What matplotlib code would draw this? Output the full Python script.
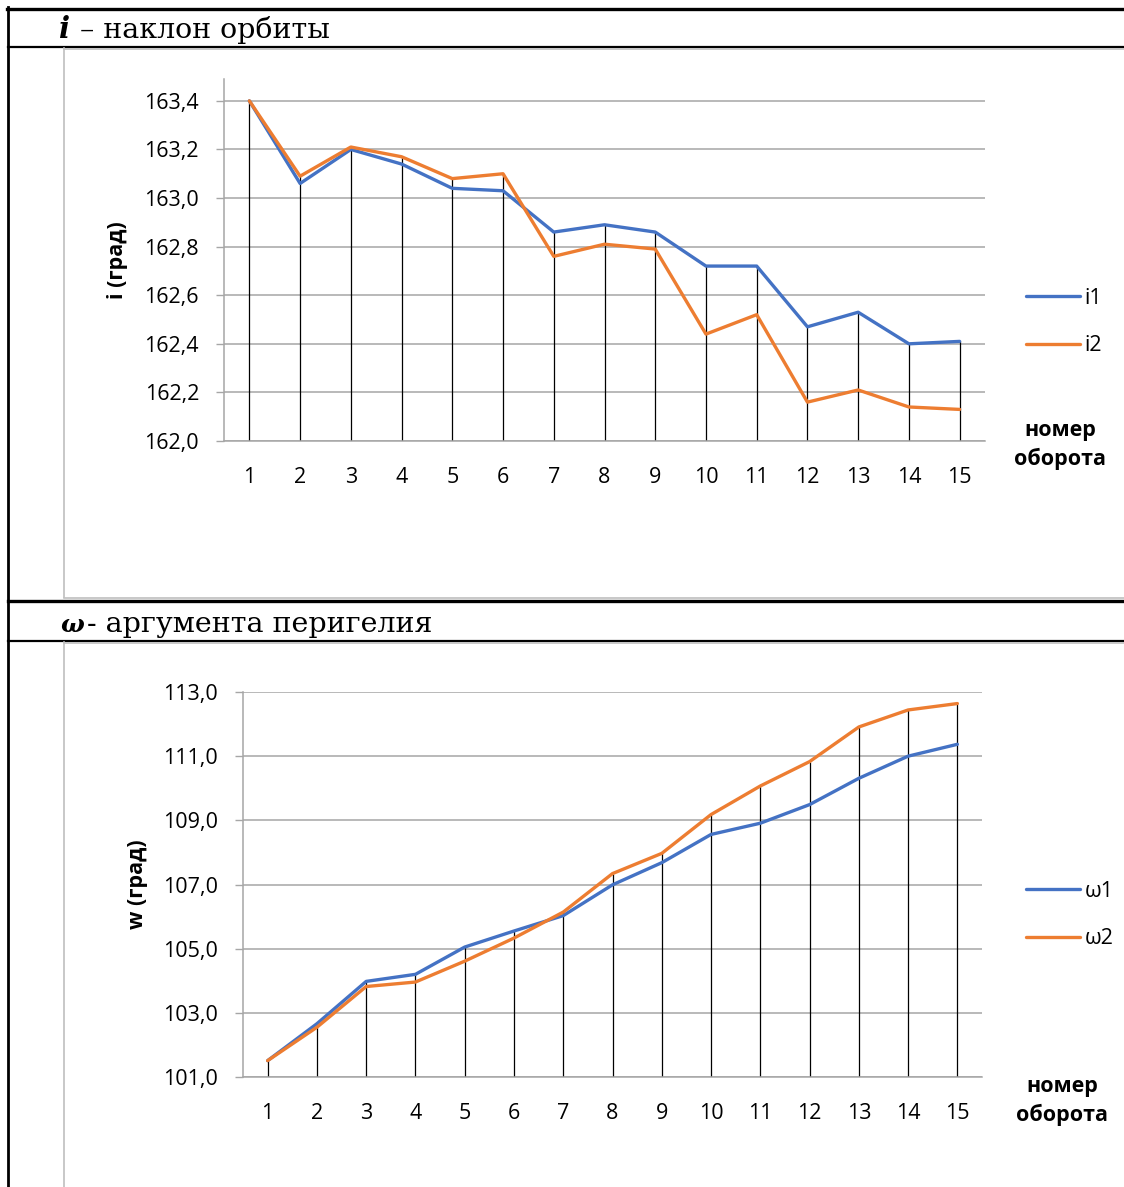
import numpy as np
import matplotlib
matplotlib.use("Agg")
import matplotlib.pyplot as plt
from matplotlib.lines import Line2D

# ---- данные ----
turns = list(range(1, 16))
i1 = [163.40, 163.06, 163.20, 163.14, 163.04, 163.03, 162.86, 162.89,
      162.86, 162.72, 162.72, 162.47, 162.53, 162.40, 162.41]
i2 = [163.40, 163.09, 163.21, 163.17, 163.08, 163.10, 162.76, 162.81,
      162.79, 162.44, 162.52, 162.16, 162.21, 162.14, 162.13]
w1 = [101.51, 102.66, 103.98, 104.20, 105.05, 105.55, 106.03, 106.99,
      107.68, 108.56, 108.91, 109.49, 110.31, 111.00, 111.37]
w2 = [101.51, 102.55, 103.82, 103.96, 104.61, 105.33, 106.14, 107.34,
      107.97, 109.18, 110.07, 110.83, 111.91, 112.44, 112.64]
i_ticks = [162.0, 162.2, 162.4, 162.6, 162.8, 163.0, 163.2, 163.4]
w_ticks = [101.0, 103.0, 105.0, 107.0, 109.0, 111.0, 113.0]

W, H = 1124, 1187
BLUE, ORANGE, GRID = "#4472C4", "#ED7D31", "#a6a6a6"
SANS = "Open Sans"
SERIF = "DejaVu Serif"
FS = 15.5
TFS = 20.5

fig = plt.figure(figsize=(W / 100, H / 100), dpi=100)


def fx(x):
    return x / W


def fy(y):
    return 1 - y / H


def hline(y, x0, x1, color, lw):
    fig.add_artist(Line2D([fx(x0), fx(x1)], [fy(y), fy(y)], color=color, lw=lw,
                          transform=fig.transFigure))


def vline(x, y0, y1, color, lw):
    fig.add_artist(Line2D([fx(x), fx(x)], [fy(y0), fy(y1)], color=color, lw=lw,
                          transform=fig.transFigure))


# ---- рамки таблицы ----
hline(8.5, 7, W, "black", 2.4)
vline(8, 7, H, "black", 2.0)
hline(46.5, 8, W, "black", 1.6)
vline(64, 48, 597, "#bfbfbf", 1.2)
hline(48.5, 64, W, "#bfbfbf", 1.2)
hline(597.5, 64, W, "#bfbfbf", 1.2)
hline(600.5, 8, W, "black", 2.4)
hline(640.5, 8, W, "black", 1.6)
vline(64, 642, H, "#bfbfbf", 1.2)
hline(642.5, 64, W, "#bfbfbf", 1.2)

# ---- заголовки ----
fig.text(fx(59), fy(38), "i", fontsize=TFS + 0.5, fontweight="bold", fontstyle="italic",
         family=SERIF, va="baseline")
fig.text(fx(80), fy(38), "– наклон орбиты", fontsize=TFS, family=SERIF, va="baseline")
fig.text(fx(60), fy(632), "ω", fontsize=18, fontweight="bold", fontstyle="italic",
         family=SERIF, va="baseline")
fig.text(fx(87), fy(632), "- аргумента перигелия", fontsize=TFS, family=SERIF,
         va="baseline")


def fmt(v):
    return f"{v:.1f}".replace(".", ",")


def chart(box, s1, s2, names, ticks, ytop, ylabel, ylab_x, leg_y, lab_xy):
    x0, y0, x1, y1 = box
    ax = fig.add_axes([fx(x0), fy(y1), (x1 - x0) / W, (y1 - y0) / H])
    ax.vlines(turns, ticks[0], np.maximum(s1, s2), color="black", lw=0.9, zorder=2)
    l1, = ax.plot(turns, s1, color=BLUE, lw=2.4, zorder=3, solid_capstyle="round")
    l2, = ax.plot(turns, s2, color=ORANGE, lw=2.4, zorder=3, solid_capstyle="round")
    ax.set_xlim(0.5, 15.5)
    ax.set_ylim(ticks[0], ytop)
    ax.set_yticks(ticks)
    ax.set_yticklabels([fmt(t) for t in ticks], family=SANS, fontsize=FS)
    ax.set_xticks(turns)
    ax.set_xticklabels([str(t) for t in turns], family=SANS, fontsize=FS)
    ax.tick_params(axis="x", length=0, pad=19)
    ax.tick_params(axis="y", length=6, width=1.0, color=GRID, pad=12)
    ax.yaxis.grid(True, color=GRID, lw=1.1)
    ax.set_axisbelow(True)
    for side in ["top", "right"]:
        ax.spines[side].set_visible(False)
    for side in ["left", "bottom"]:
        ax.spines[side].set_color(GRID)
        ax.spines[side].set_linewidth(1.1)
    fig.text(fx(ylab_x), fy((y0 + y1) / 2), ylabel, rotation=90, ha="center",
             va="center", family=SANS, fontsize=FS, fontweight="bold")
    ax.legend([l1, l2], names, loc="center left", frameon=False,
              bbox_to_anchor=(fx(1007), fy(leg_y)), bbox_transform=fig.transFigure,
              prop={"family": SANS, "size": FS}, handlelength=2.5,
              handletextpad=0.2, labelspacing=1.25)
    fig.text(fx(lab_xy[0]), fy(lab_xy[1]), "номер\nоборота", ha="center",
             va="center", family=SANS, fontsize=FS, fontweight="bold",
             linespacing=1.45)
    return ax


chart((224, 79, 985, 441), i1, i2, ["i1", "i2"], i_ticks, 163.49, "i (град)",
      118, 322, (1060, 445))
chart((243, 692, 982, 1077), w1, w2, ["ω1", "ω2"], w_ticks, 113.0, "w (град)",
      138, 915, (1062, 1101))

fig.savefig("out.png", dpi=100)
